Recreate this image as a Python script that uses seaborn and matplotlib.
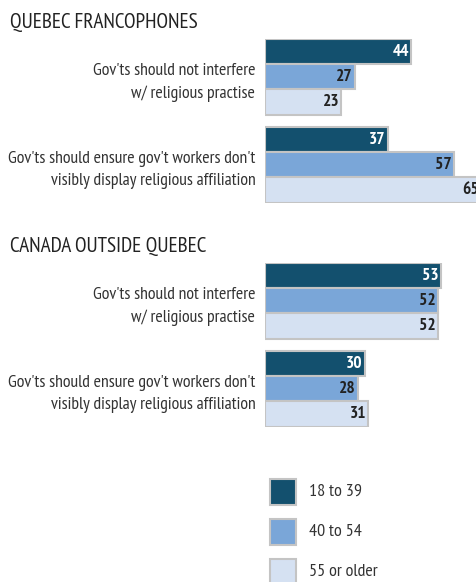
import matplotlib
matplotlib.use("Agg")
import matplotlib.pyplot as plt
from matplotlib.patches import Rectangle
import seaborn as sns
import pandas as pd

sns.set_theme(style="white")
plt.rcParams['font.family'] = ['PT Sans Narrow', 'DejaVu Sans']

# ---- data ----
panels = ["QUEBEC FRANCOPHONES", "CANADA OUTSIDE QUEBEC"]
statements = ["Gov'ts should not interfere\nw/ religious practise",
              "Gov'ts should ensure gov't workers don't\nvisibly display religious affiliation"]
ages = ["18 to 39", "40 to 54", "55 or older"]
quebec_young = [44, 37]
quebec_mid = [27, 57]
quebec_old = [23, 65]
canada_young = [53, 30]
canada_mid = [52, 28]
canada_old = [52, 31]

colors = ["#13506e", "#7aa6d8", "#d5e1f2"]
label_colors = ["white", "#222222", "#222222"]
edge = "#c4c4c4"

W, H = 477, 582
fig = plt.figure(figsize=(W / 100, H / 100), dpi=100)

def make_df(y, m, o):
    rows = []
    for vals, age in zip([y, m, o], ages):
        for s, v in zip(statements, vals):
            rows.append({"statement": s, "age": age, "value": v})
    return pd.DataFrame(rows)

dfs = [make_df(quebec_young, quebec_mid, quebec_old),
       make_df(canada_young, canada_mid, canada_old)]

px_per_unit = 3.32
x0 = 265
xmax = 70
panel_tops = [39, 263]
title_y = [22, 247]
width = 0.86
half = width / 2
for top, df, title, ty in zip(panel_tops, dfs, panels, title_y):
    h = 88 + 88 * width  # pixel height of two groups
    ax = fig.add_axes([x0 / W, 1 - (top + h) / H, xmax * px_per_unit / W, h / H])
    sns.barplot(data=df, y="statement", x="value", hue="age", orient="h",
                palette=colors, width=width, edgecolor=edge, linewidth=1.5,
                ax=ax, legend=False, saturation=1)
    ax.set_xlim(0, xmax)
    ax.set_ylim(1 + half, -half)
    for cont, lc in zip(ax.containers, label_colors):
        for p in cont:
            ax.text(p.get_width() - 0.6, p.get_y() + p.get_height() / 2,
                    f"{p.get_width():.0f}", ha="right", va="center",
                    color=lc, fontsize=12.5, fontweight="bold", clip_on=False)
    ax.set_xlabel("")
    ax.set_ylabel("")
    ax.set_xticks([])
    ax.tick_params(axis="y", length=0, pad=7)
    for lab in ax.get_yticklabels():
        lab.set_fontsize(12.8)
        lab.set_color("#333333")
        lab.set_linespacing(1.55)
        lab.set_ha("right")
        lab.set_multialignment("right")
    for s in ax.spines.values():
        s.set_visible(False)
    fig.text(10 / W, 1 - ty / H, title, fontsize=15.3, color="#222222",
             ha="left", va="center")

# legend
for i, (c, a) in enumerate(zip(colors, ages)):
    ytop = 479 + 40 * i
    fig.patches.append(Rectangle((270 / W, 1 - (ytop + 26) / H), 26 / W, 26 / H,
                                 transform=fig.transFigure, facecolor=c,
                                 edgecolor=edge, linewidth=1.5))
    fig.text(309 / W, 1 - (ytop + 13) / H, a, fontsize=13, color="#333333",
             ha="left", va="center")

fig.savefig("out.png", dpi=100)
